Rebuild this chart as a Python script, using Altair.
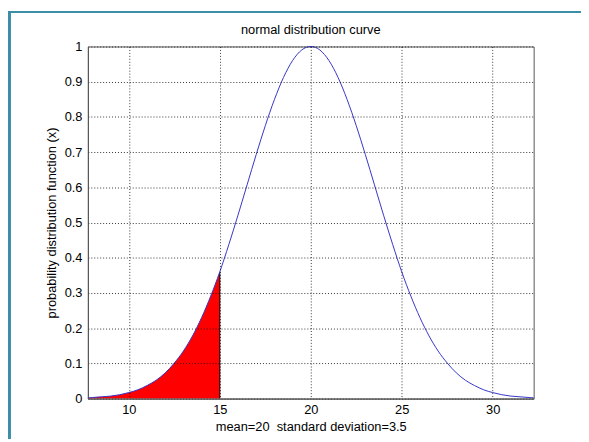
import altair as alt
import pandas as pd

# values (x, probability distribution function)
xs = [7.75, 8.0, 8.5, 9.0, 9.5, 10.0, 10.5, 11.0, 11.5, 12.0, 12.5, 13.0, 13.5, 14.0,
      14.5, 15.0, 15.5, 16.0, 16.5, 17.0, 17.5, 18.0, 18.5, 19.0, 19.5, 20.0,
      20.5, 21.0, 21.5, 22.0, 22.5, 23.0, 23.5, 24.0, 24.5, 25.0, 25.5, 26.0,
      26.5, 27.0, 27.5, 28.0, 28.5, 29.0, 29.5, 30.0, 30.5, 31.0, 31.5, 32.0, 32.25]
ys = [0.002, 0.003, 0.005, 0.007, 0.011, 0.017, 0.025, 0.037, 0.052, 0.073, 0.101,
      0.135, 0.178, 0.230, 0.291, 0.360, 0.438, 0.521, 0.607, 0.693, 0.775, 0.849,
      0.912, 0.960, 0.990, 1.000,
      0.990, 0.960, 0.912, 0.849, 0.775, 0.693, 0.607, 0.521, 0.438, 0.360, 0.291,
      0.230, 0.178, 0.135, 0.101, 0.073, 0.052, 0.037, 0.025, 0.017, 0.011, 0.007,
      0.005, 0.003, 0.002]
x_ticks = [10, 15, 20, 25, 30]
y_ticks = [0, 0.1, 0.2, 0.3, 0.4, 0.5, 0.6, 0.7, 0.8, 0.9, 1]
shade_limit = 15
title_text = ["normal distribution curve"]

df = pd.DataFrame({"x": xs, "y": ys})

W, H = 452, 357
PL, PT, PR, PB = 81, 36, 48, 41
FONT = "Liberation Sans"
FS = 13
TEAL = "#3a8fa6"

xscale = alt.Scale(domain=[7.75, 32.25], nice=False, zero=False)
yscale = alt.Scale(domain=[0, 1], nice=False)

common = dict(grid=True, gridColor="#000000", gridDash=[1, 2], gridOpacity=1,
              gridWidth=0.8, ticks=False, zindex=1, labelOverlap=False,
              domainColor="#555555", labelFontSize=FS, titleFontSize=FS,
              labelFont=FONT, titleFont=FONT, titleFontWeight="normal",
              labelColor="#000000", titleColor="#000000")

xaxis = alt.Axis(values=x_ticks, title="mean=20\u00a0 standard deviation=3.5",
                 labelPadding=5, titlePadding=4, **common)
yaxis = alt.Axis(values=y_ticks, format="~g",
                 title="probability distribution function (x)",
                 labelPadding=6, titlePadding=6, **common)

X = alt.X("x:Q", scale=xscale, axis=xaxis)
Y = alt.Y("y:Q", scale=yscale, axis=yaxis)

base = alt.Chart(df)
dummy = pd.DataFrame({"t": title_text})

# teal frame strips (left and top)
frame_left = alt.Chart(dummy).mark_rect(color=TEAL).encode(
    x=alt.value(-PL), x2=alt.value(-PL + 3),
    y=alt.value(-PT), y2=alt.value(H + PB))
frame_top = alt.Chart(dummy).mark_rect(color=TEAL).encode(
    x=alt.value(-PL), x2=alt.value(W + PR),
    y=alt.value(-PT), y2=alt.value(-PT + 2))

title = alt.Chart(dummy).mark_text(font=FONT, fontSize=FS, color="#000000",
                                   align="center", baseline="middle").encode(
    x=alt.value(W / 2), y=alt.value(-17), text="t:N")

area = base.transform_filter(alt.datum.x <= shade_limit).mark_area(
    color="#ff0000", interpolate="monotone", line=False).encode(x=X, y=Y)

edge = base.transform_filter(alt.datum.x == shade_limit).mark_rule(
    color="#000000", strokeWidth=1).encode(x=X, y=Y, y2=alt.datum(0))

line = base.mark_line(color="#3535c8", strokeWidth=1, interpolate="monotone").encode(
    x=X, y=Y)

chart = alt.layer(frame_left, frame_top, area, edge, line, title).properties(
    width=W, height=H,
    background="#ffffff",
    padding={"left": PL, "top": PT, "right": PR, "bottom": PB},
    autosize=alt.AutoSizeParams(type="none"),
).configure_view(stroke="#555555", strokeWidth=1)

chart.save("out.html", embed_options={"renderer": "svg", "actions": False})
